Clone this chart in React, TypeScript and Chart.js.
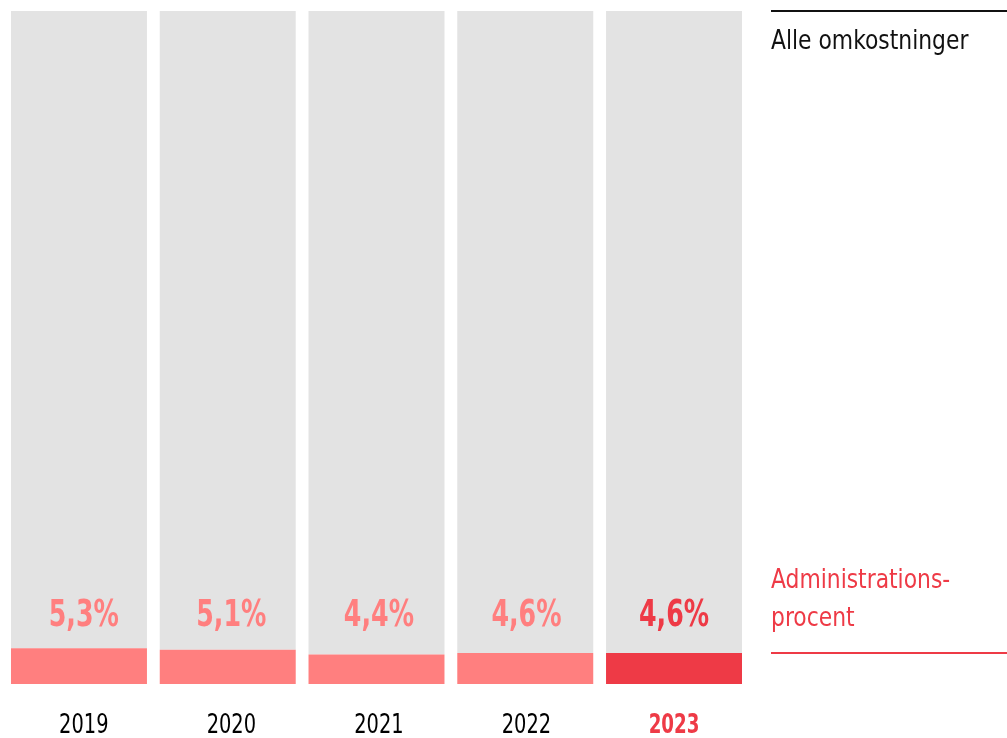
import React, { useEffect, useRef } from "react";
import { Chart, registerables } from "chart.js";

Chart.register(...registerables);

const years = ["2019", "2020", "2021", "2022", "2023"];
const adminPct = [5.3, 5.1, 4.4, 4.6, 4.6];
const restPct = adminPct.map((v) => 100 - v);
const valueLabels = ["5,3%", "5,1%", "4,4%", "4,6%", "4,6%"];
const legendTop = "Alle omkostninger";
const legendBottom = ["Administrations-", "procent"];

const FONT = '"DejaVu Sans Condensed", "Liberation Sans Narrow", sans-serif';
const LIGHT = "#FF7F7F";
const RED = "#EE3A46";
const GRAY = "#E3E3E3";

function drawText(ctx: CanvasRenderingContext2D, text: string, x: number, y: number, sx: number, align: "left" | "center") {
  ctx.save();
  ctx.translate(x, y);
  ctx.scale(sx, 1);
  ctx.textAlign = align;
  ctx.fillText(text, 0, 0);
  ctx.restore();
}

export default function App() {
  const ref = useRef<HTMLCanvasElement | null>(null);
  useEffect(() => {
    if (!ref.current) return;
    const labelPlugin = {
      id: "labels",
      afterDatasetsDraw(chart: any) {
        const ctx: CanvasRenderingContext2D = chart.ctx;
        const x = chart.scales.x;
        ctx.save();
        ctx.textBaseline = "alphabetic";
        years.forEach((yr, i) => {
          const cx = x.getPixelForValue(i) + (years.length - 1 - i) * 1.2;
          const last = i === years.length - 1;
          ctx.fillStyle = last ? RED : LIGHT;
          ctx.font = `bold 38px ${FONT}`;
          drawText(ctx, valueLabels[i], cx, 626, 0.74, "center");
          ctx.fillStyle = last ? RED : "#000";
          ctx.font = `${last ? "bold " : ""}26px ${FONT}`;
          drawText(ctx, yr, cx, 733, last ? 0.78 : 0.83, "center");
        });
        // legend
        ctx.fillStyle = "#111";
        ctx.fillRect(771, 10, 236, 2);
        ctx.font = `27px ${FONT}`;
        drawText(ctx, legendTop, 771, 49, 0.9, "left");
        ctx.fillStyle = RED;
        drawText(ctx, legendBottom[0], 771, 588, 0.9, "left");
        drawText(ctx, legendBottom[1], 771, 626, 0.9, "left");
        ctx.fillRect(771, 652, 236, 2);
        ctx.restore();
      },
    };
    const chart = new Chart(ref.current, {
      type: "bar",
      data: {
        labels: years,
        datasets: [
          {
            data: adminPct,
            backgroundColor: years.map((_, i) => (i === years.length - 1 ? RED : LIGHT)),
            barPercentage: 1,
            categoryPercentage: 0.914,
          },
          {
            data: restPct,
            backgroundColor: GRAY,
            barPercentage: 1,
            categoryPercentage: 0.914,
          },
        ],
      },
      options: {
        animation: false,
        responsive: false,
        events: [],
        layout: { padding: { left: 4.6, right: 258.6, top: 11, bottom: 54 } },
        plugins: { legend: { display: false }, tooltip: { enabled: false } },
        scales: {
          x: { stacked: true, display: false },
          y: { stacked: true, display: false, min: 0, max: 100 },
        },
      },
      plugins: [labelPlugin],
    });
    return () => chart.destroy();
  }, []);
  return (
    <div style={{ position: "absolute", left: 0, top: 0, width: 1007, height: 738, background: "#fff" }}>
      <canvas ref={ref} width={1007} height={738} style={{ width: 1007, height: 738 }} />
    </div>
  );
}
